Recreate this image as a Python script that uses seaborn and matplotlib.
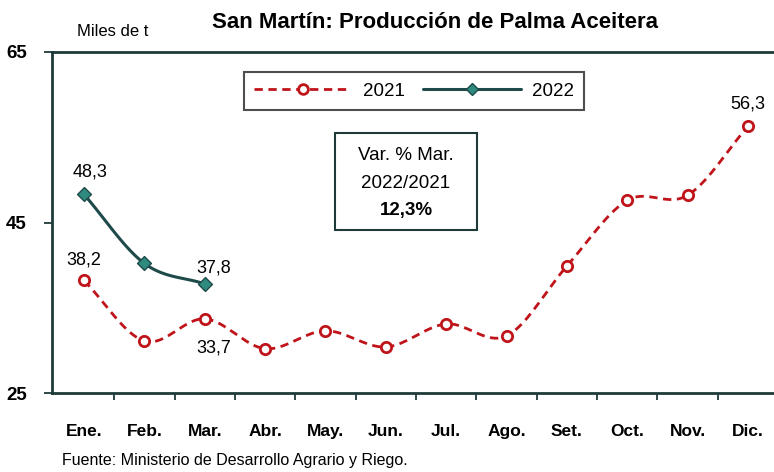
import numpy as np
import pandas as pd
import seaborn as sns
import matplotlib.pyplot as plt
from matplotlib.lines import Line2D
from matplotlib.patches import Rectangle

# data (thousand tonnes)
months = ['Ene.', 'Feb.', 'Mar.', 'Abr.', 'May.', 'Jun.', 'Jul.', 'Ago.', 'Set.', 'Oct.', 'Nov.', 'Dic.']
prod_2021 = [38.2, 31.1, 33.7, 30.2, 32.3, 30.4, 33.1, 31.7, 39.9, 47.6, 48.2, 56.3]
prod_2022 = [48.3, 40.2, 37.8]

red = '#C0141B'
teal_line = '#1E4B4A'
teal_mark = '#2F8A80'
dark = '#1E3B3A'

sns.set_style('white')
plt.rcParams['font.family'] = ['Liberation Sans Narrow', 'Liberation Sans', 'DejaVu Sans']
plt.rcParams['text.color'] = 'black'
plt.rcParams['xtick.color'] = 'black'
plt.rcParams['ytick.color'] = 'black'


def smooth(y, n=20):
    # catmull-rom path through the points, only for drawing the curve
    x = np.arange(len(y), dtype=float)
    y = np.asarray(y, dtype=float)
    px = np.concatenate([[2 * x[0] - x[1]], x, [2 * x[-1] - x[-2]]])
    py = np.concatenate([[2 * y[0] - y[1]], y, [2 * y[-1] - y[-2]]])
    xs, ys = [], []
    t = np.linspace(0, 1, n, endpoint=False)
    for i in range(1, len(px) - 2):
        for p, out in ((px, xs), (py, ys)):
            p0, p1, p2, p3 = p[i - 1], p[i], p[i + 1], p[i + 2]
            out.extend(0.5 * ((2 * p1) + (-p0 + p2) * t + (2 * p0 - 5 * p1 + 4 * p2 - p3) * t ** 2
                              + (-p0 + 3 * p1 - 3 * p2 + p3) * t ** 3))
    xs.append(x[-1])
    ys.append(y[-1])
    return np.array(xs), np.array(ys)


fig = plt.figure(figsize=(7.74, 4.72), dpi=100)
ax = fig.add_axes([52 / 774, 79 / 472, 1 - 52 / 774, 341 / 472])


def ax_x(px):
    return (px - 52) / 722


def ax_y(py):
    return 1 - (py - 52) / 341


sx, sy = smooth(prod_2021)
sns.lineplot(x=sx, y=sy, ax=ax, color=red, lw=2, linestyle=(0, (3, 2)), sort=False, estimator=None)
sx, sy = smooth(prod_2022)
sns.lineplot(x=sx, y=sy, ax=ax, color=teal_line, lw=2.2, sort=False, estimator=None)

df21 = pd.DataFrame({'x': range(len(prod_2021)), 'y': prod_2021})
df22 = pd.DataFrame({'x': range(len(prod_2022)), 'y': prod_2022})
sns.scatterplot(data=df21, x='x', y='y', ax=ax, marker='o', s=55, facecolor='white',
                edgecolor=red, linewidth=2, zorder=5)
sns.scatterplot(data=df22, x='x', y='y', ax=ax, marker='D', s=50, color=teal_mark,
                edgecolor=teal_line, linewidth=1, zorder=5)

ax.set_xlim(-0.53, 11.43)
ax.set_ylim(25, 65)
ax.set_yticks([25, 45, 65])
ax.set_yticklabels(['25', '45', '65'], fontsize=13.5, fontweight='bold')
ax.set_xticks(range(12))
ax.set_xticklabels(months, fontsize=12.5, fontweight='bold')
ax.tick_params(axis='x', which='major', length=0, pad=22, bottom=True)
ax.set_xticks(np.arange(0.5, 11, 1), minor=True)
ax.tick_params(axis='x', which='minor', length=5, width=1.3, color=dark, direction='out', bottom=True)
ax.tick_params(axis='y', length=6, width=1.3, color=dark, direction='out', pad=12, left=True)
ax.set_xlabel('')
ax.set_ylabel('')

for side in ['left', 'bottom', 'top']:
    ax.spines[side].set_color(dark)
    ax.spines[side].set_linewidth(2)
ax.spines['right'].set_visible(False)

# value labels
lab_kw = dict(fontsize=13, ha='center', color='black')
ax.text(0.1, prod_2022[0] + 1.6, '48,3', va='bottom', **lab_kw)
ax.text(0.0, prod_2021[0] + 1.4, '38,2', va='bottom', **lab_kw)
ax.text(2.15, prod_2022[2] + 0.9, '37,8', va='bottom', **lab_kw)
ax.text(2.15, prod_2021[2] - 2.4, '33,7', va='top', **lab_kw)
ax.text(11.0, prod_2021[11] + 1.6, '56,3', va='bottom', **lab_kw)

handles = [Line2D([], [], color=red, lw=2, linestyle=(0, (3, 2)), marker='o', ms=7,
                  mfc='white', mec=red, mew=2),
           Line2D([], [], color=teal_line, lw=2.2, marker='D', ms=6, mfc=teal_mark, mec=teal_line)]
leg = ax.legend(handles, ['2021', '2022'], ncol=2, loc='center', bbox_to_anchor=(ax_x(414), ax_y(91)),
                frameon=True, fancybox=False, fontsize=13.5, handlelength=5.2, columnspacing=1.0,
                borderpad=0.55, handletextpad=0.6)
leg.get_frame().set_edgecolor('#222222')
leg.get_frame().set_linewidth(1.5)

# variation box
ax.add_patch(Rectangle((ax_x(335), ax_y(230)), ax_x(477) - ax_x(335), ax_y(133) - ax_y(230),
                       transform=ax.transAxes, fc='white', ec=dark, lw=1.5, zorder=6))
ax.text(ax_x(406), ax_y(156), 'Var. % Mar.', transform=ax.transAxes, ha='center', va='center',
        fontsize=13.5, zorder=7)
ax.text(ax_x(406), ax_y(183), '2022/2021', transform=ax.transAxes, ha='center', va='center',
        fontsize=13.5, zorder=7)
ax.text(ax_x(406), ax_y(210), '12,3%', transform=ax.transAxes, ha='center', va='center',
        fontsize=13.5, fontweight='bold', zorder=7)

fig.text(435 / 774, 1 - 22 / 472, 'San Martín: Producción de Palma Aceitera', ha='center', va='center',
         fontsize=16, fontweight='bold')
fig.text(77 / 774, 1 - 31 / 472, 'Miles de t', ha='left', va='center', fontsize=12)
fig.text(62 / 774, 1 - 461 / 472, 'Fuente: Ministerio de Desarrollo Agrario y Riego.', ha='left',
         va='center', fontsize=11.5)

fig.savefig('out.png', dpi=100)
